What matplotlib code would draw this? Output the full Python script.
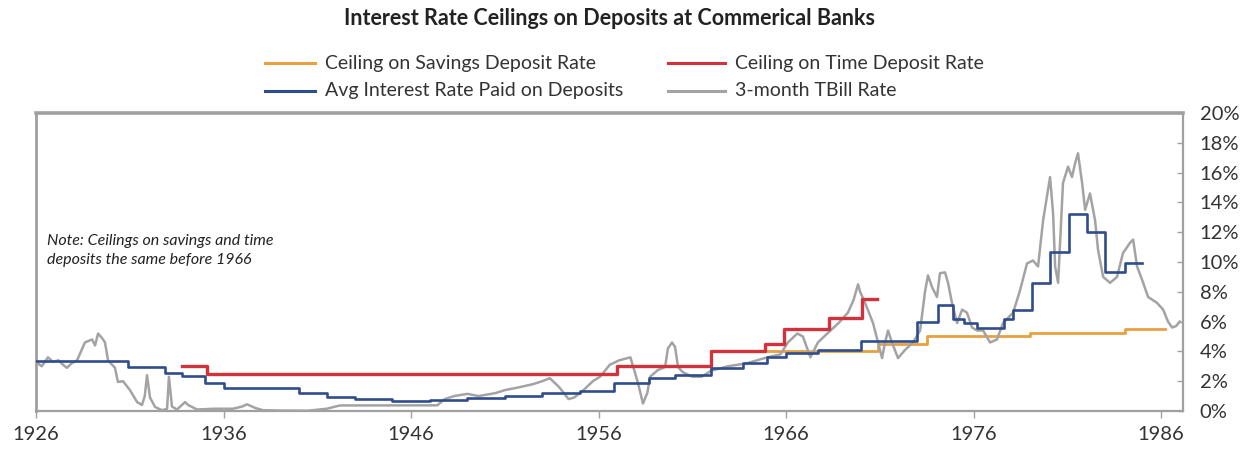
import matplotlib
matplotlib.use("Agg")
import matplotlib.pyplot as plt
from matplotlib.lines import Line2D
from matplotlib.ticker import FuncFormatter

plt.rcParams['font.family'] = ['Lato', 'DejaVu Sans']

# ---------------- data ----------------
title = "Interest Rate Ceilings on Deposits at Commerical Banks"
series_names = ["Ceiling on Savings Deposit Rate", "Ceiling on Time Deposit Rate",
                "Avg Interest Rate Paid on Deposits", "3-month TBill Rate"]
note_text = "Note: Ceilings on savings and time\ndeposits the same before 1966"
year_ticks = [1926, 1936, 1946, 1956, 1966, 1976, 1986]
pct_ticks = [0, 2, 4, 6, 8, 10, 12, 14, 16, 18, 20]

sav_years = [1964.9, 1970.9, 1973.5, 1979.0, 1984.1, 1986.2]
sav_rate = [4.0, 4.5, 5.0, 5.25, 5.5, 5.5]

time_years = [1933.8, 1935.1, 1957.0, 1962.0, 1964.9, 1965.9, 1968.3, 1970.05, 1970.85]
time_rate = [3.0, 2.5, 3.0, 4.0, 4.5, 5.5, 6.25, 7.5, 7.5]

avg_years = [1926.0, 1930.9, 1932.9, 1933.8, 1935.0, 1936.0, 1940.0, 1941.5, 1943.0,
             1945.0, 1947.0, 1949.0, 1951.0, 1953.0, 1955.0, 1956.8, 1958.7, 1960.1,
             1962.0, 1963.7, 1965.0, 1966.0, 1967.7, 1970.0, 1973.0, 1974.1, 1974.9,
             1975.5, 1976.2, 1977.6, 1978.1, 1979.1, 1980.1, 1981.1, 1982.05, 1983.0,
             1984.1, 1985.0]
avg_rate = [3.35, 2.95, 2.55, 2.35, 1.9, 1.55, 1.2, 0.95, 0.8,
            0.7, 0.75, 0.85, 1.0, 1.2, 1.35, 1.9, 2.2, 2.4,
            2.9, 3.2, 3.6, 3.9, 4.1, 4.7, 6.0, 7.1, 6.2,
            5.9, 5.6, 6.2, 6.8, 8.6, 10.7, 13.2, 12.0, 9.3,
            9.9, 9.9]

tb_years = [1926.0, 1926.3, 1926.64, 1926.9, 1927.2, 1927.44, 1927.65, 1927.9, 1928.19,
            1928.4, 1928.61, 1928.99, 1929.15, 1929.31, 1929.52, 1929.68, 1929.84, 1930.21,
            1930.37, 1930.64, 1931.01, 1931.39, 1931.65, 1931.8, 1931.92, 1932.08, 1932.35,
            1932.72, 1932.99, 1933.09, 1933.25, 1933.52, 1933.95, 1934.11, 1934.59, 1935.5,
            1936.5, 1937.0, 1937.25, 1937.7, 1938.11, 1939.0, 1940.5, 1941.5, 1942.2,
            1947.4, 1947.8, 1948.3, 1949.0, 1949.6, 1950.5, 1951.0, 1951.8, 1952.5,
            1953.0, 1953.4, 1953.9, 1954.4, 1954.7, 1955.2, 1955.7, 1956.08, 1956.6,
            1957.1, 1957.7, 1957.9, 1958.1, 1958.37, 1958.6, 1958.75, 1959.17, 1959.55,
            1959.7, 1959.92, 1960.08, 1960.24, 1960.5, 1961.0, 1961.5, 1962.0, 1962.9,
            1963.9, 1965.0, 1965.7, 1966.1, 1966.6, 1966.9, 1967.3, 1967.7, 1968.2,
            1968.8, 1969.3, 1969.6, 1969.84, 1969.95, 1970.2, 1970.64, 1971.12, 1971.28,
            1971.44, 1971.65, 1971.97, 1972.35, 1972.77, 1973.15, 1973.41, 1973.57, 1973.79,
            1974.05, 1974.21, 1974.48, 1974.64, 1974.85, 1975.12, 1975.39, 1975.65, 1975.92,
            1976.19, 1976.51, 1976.88, 1977.25, 1977.57, 1978.11, 1978.48, 1978.85, 1979.17,
            1979.44, 1979.71, 1980.08, 1980.24, 1980.35, 1980.51, 1980.77, 1981.04, 1981.25,
            1981.41, 1981.57, 1981.79, 1981.95, 1982.21, 1982.48, 1982.64, 1982.91, 1983.28,
            1983.65, 1983.97, 1984.35, 1984.51, 1984.72, 1984.99, 1985.31, 1985.79, 1986.11,
            1986.37, 1986.59, 1986.8, 1987.0]
tb_rate = [3.3, 3.0, 3.6, 3.3, 3.4, 3.1, 2.9, 3.2, 3.4,
           4.0, 4.6, 4.8, 4.4, 5.2, 4.9, 4.6, 3.4, 2.9,
           1.95, 2.0, 1.4, 0.6, 0.4, 1.0, 2.4, 0.9, 0.27,
           0.05, 0.15, 2.3, 0.3, 0.1, 0.6, 0.4, 0.1, 0.15,
           0.15, 0.3, 0.45, 0.2, 0.05, 0.03, 0.02, 0.15, 0.37,
           0.38, 0.8, 1.0, 1.15, 1.0, 1.2, 1.4, 1.6, 1.8,
           2.0, 2.2, 1.6, 0.8, 0.9, 1.4, 2.0, 2.3, 3.1,
           3.4, 3.6, 2.75, 1.9, 0.5, 1.2, 2.3, 2.75, 2.95,
           4.2, 4.6, 4.3, 2.95, 2.6, 2.3, 2.3, 2.7, 3.0,
           3.2, 3.6, 3.8, 4.6, 5.2, 5.0, 3.6, 4.6, 5.2,
           5.9, 6.6, 7.45, 8.5, 8.0, 7.3, 5.9, 3.55, 4.6,
           5.4, 4.6, 3.55, 4.1, 4.6, 5.4, 8.0, 9.1, 8.3,
           7.65, 9.25, 9.3, 8.6, 7.25, 5.9, 6.8, 6.6, 5.6,
           5.4, 5.4, 4.6, 4.8, 5.9, 6.6, 8.1, 9.9, 10.1,
           9.7, 12.8, 15.7, 13.3, 9.7, 8.6, 15.3, 16.4, 15.7,
           16.6, 17.3, 15.3, 13.5, 14.6, 12.8, 10.8, 9.0, 8.6,
           9.0, 10.6, 11.3, 11.5, 9.7, 8.8, 7.65, 7.25, 6.8,
           6.0, 5.6, 5.7, 6.0]

# ---------------- style ----------------
c_sav = "#e8a040"
c_time = "#d1323c"
c_avg = "#2f4d8c"
c_tb = "#a3a3a3"
spine_c = "#a0a0a0"
text_c = "#333333"

fig = plt.figure(figsize=(12.5, 4.5), dpi=100)
ax = fig.add_axes([0.0288, 0.0867, 0.9176, 0.6622])

ax.plot(sav_years, sav_rate, drawstyle="steps-post", color=c_sav, lw=2.0, zorder=2)
ax.plot(tb_years, tb_rate, color=c_tb, lw=1.8, zorder=3)
ax.plot(time_years, time_rate, drawstyle="steps-post", color=c_time, lw=2.4, zorder=4)
ax.plot(avg_years, avg_rate, drawstyle="steps-post", color=c_avg, lw=1.9, zorder=5)

ax.set_xlim(1926, 1987.17)
ax.set_ylim(0, 20)

ax.set_xticks(year_ticks)
ax.set_xticklabels([str(y) for y in year_ticks])
ax.yaxis.tick_right()
ax.set_yticks(pct_ticks)
ax.yaxis.set_major_formatter(FuncFormatter(lambda v, p: f"{v:.0f}%"))

ax.tick_params(axis="x", direction="out", length=5, width=1, color=spine_c,
               labelsize=14.5, labelcolor=text_c, pad=6)
ax.tick_params(axis="y", direction="in", length=4, width=1, color=spine_c,
               labelsize=14.5, labelcolor=text_c, pad=12, right=True, left=False)

for side, lw in [("top", 2.6), ("left", 2.0), ("bottom", 1.6), ("right", 1.6)]:
    ax.spines[side].set_color(spine_c)
    ax.spines[side].set_linewidth(lw)

# Title
fig.text(0.488, 0.958, title, ha="center", va="center", fontsize=15.5,
         fontweight="bold", color="#222222")

# Legend (manual placement to match reference)
colors = [c_sav, c_time, c_avg, c_tb]
leg_x = [(0.212, 0.252, 0.260), (0.534, 0.580, 0.588), (0.212, 0.252, 0.260), (0.534, 0.580, 0.588)]
leg_y = [0.860, 0.860, 0.798, 0.798]
for name, col, (x0, x1, xt), yy in zip(series_names, colors, leg_x, leg_y):
    fig.add_artist(Line2D([x0, x1], [yy, yy], color=col, lw=2.2, transform=fig.transFigure))
    fig.text(xt, yy, name, ha="left", va="center", fontsize=14, color=text_c)

# Note
ax.text(0.0095, 0.54, note_text, transform=ax.transAxes, ha="left", va="center",
        fontsize=11.5, style="italic", color="#222222", linespacing=1.45)

fig.savefig("out.png", dpi=100, facecolor="white")
